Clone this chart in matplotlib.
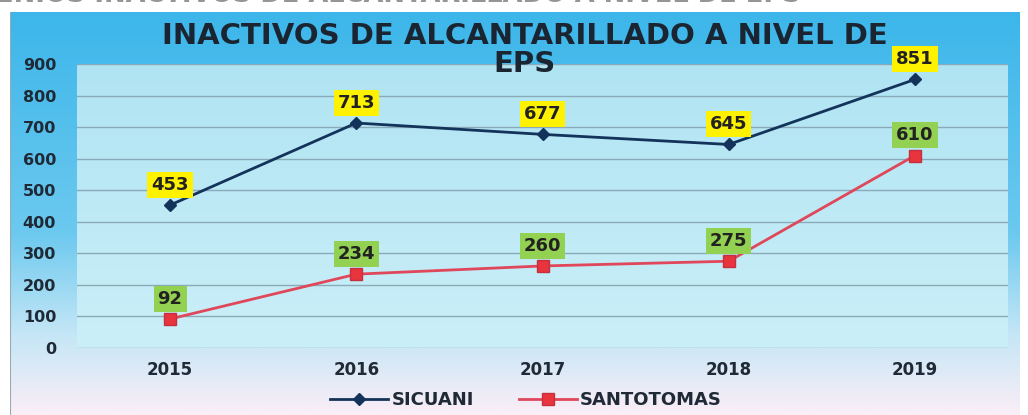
import matplotlib.pyplot as plt
import numpy as np
from matplotlib.colors import LinearSegmentedColormap

years = ["2015", "2016", "2017", "2018", "2019"]
sicuani = [453, 713, 677, 645, 851]
santotomas = [92, 234, 260, 275, 610]
yticks = [0, 100, 200, 300, 400, 500, 600, 700, 800, 900]

W, H = 1028, 415
fig = plt.figure(figsize=(W / 100, H / 100), dpi=100)
fig.patch.set_facecolor("white")

# slide background (blue on top, pale pink at the bottom)
bg = fig.add_axes([10 / W, 0, 1010 / W, 1 - 12 / H])
bg.set_axis_off()
bg_cmap = LinearSegmentedColormap.from_list(
    "bg", [(0, "#3cb6ea"), (0.55, "#6cc9ef"), (0.8, "#c4e6f6"), (1, "#fbeef7")])
bg.imshow(np.linspace(0, 1, 256).reshape(-1, 1), aspect="auto", cmap=bg_cmap,
          extent=[0, 1, 0, 1], origin="upper")
bg.set_xlim(0, 1)
bg.set_ylim(0, 1)
bg.plot([0, 0], [0, 1], color="#9aa8b0", lw=1.5)

# caption of the slide, cut off by the top of the photo
fig.text(-0.004, 1.012, "ENIOS INACTIVOS DE ALCANTARILLADO A NIVEL DE EPS",
         ha="left", va="center", fontsize=18.5, fontweight="bold", color="#959595")

ax = fig.add_axes([77 / W, 1 - 348 / H, 931 / W, 284 / H])
x = np.arange(len(years))
ax.set_xlim(-0.5, len(years) - 0.5)
ax.set_ylim(0, 900)

pa_cmap = LinearSegmentedColormap.from_list("pa", ["#b0e4f3", "#cbeff8"])
ax.imshow(np.linspace(0, 1, 256).reshape(-1, 1), aspect="auto", cmap=pa_cmap,
          extent=[-0.5, len(years) - 0.5, 0, 900], origin="upper", zorder=0)

for t in yticks:
    ax.axhline(t, color="#8aaab8", lw=1, zorder=1)

ax.plot(x, sicuani, color="#13335a", lw=2, marker="D", ms=6,
        markerfacecolor="#13335a", label="SICUANI", zorder=3)
ax.plot(x, santotomas, color="#e0475a", lw=2, marker="s", ms=9,
        markerfacecolor="#e8343c", markeredgecolor="#c43040", label="SANTOTOMAS", zorder=3)

for xi, v in zip(x, sicuani):
    ax.annotate(str(v), (xi, v), xytext=(0, 8), textcoords="offset points",
                ha="center", va="bottom", fontsize=13, fontweight="bold", color="#222222",
                bbox=dict(boxstyle="square,pad=0.22", fc="#fff200", ec="none"), zorder=5)
for xi, v in zip(x, santotomas):
    ax.annotate(str(v), (xi, v), xytext=(0, 8), textcoords="offset points",
                ha="center", va="bottom", fontsize=13, fontweight="bold", color="#222222",
                bbox=dict(boxstyle="square,pad=0.22", fc="#93d152", ec="none"), zorder=5)

ax.set_xticks(x)
ax.set_xticklabels(years, fontsize=12, fontweight="bold", color="#1f2a36")
ax.set_yticks(yticks)
ax.set_yticklabels([str(t) for t in yticks], fontsize=11.5, fontweight="bold", color="#1f2a36")
ax.tick_params(length=0)
ax.tick_params(axis="y", pad=15)
ax.tick_params(axis="x", pad=9)
for s in ax.spines.values():
    s.set_visible(False)

fig.text(525 / W, 1 - 36 / H, "INACTIVOS DE ALCANTARILLADO A NIVEL DE",
         ha="center", va="center", fontsize=21, fontweight="bold", color="#1a2531")
fig.text(525 / W, 1 - 64 / H, "EPS",
         ha="center", va="center", fontsize=21, fontweight="bold", color="#1a2531")

leg = fig.legend(loc="center", bbox_to_anchor=(526 / W, 1 - 400 / H), ncol=2,
                 frameon=False, prop=dict(size=13, weight="bold"), handlelength=3.2,
                 columnspacing=2.5, handletextpad=0.2, labelcolor="#1f2a36")

fig.savefig("out.png", dpi=100)
